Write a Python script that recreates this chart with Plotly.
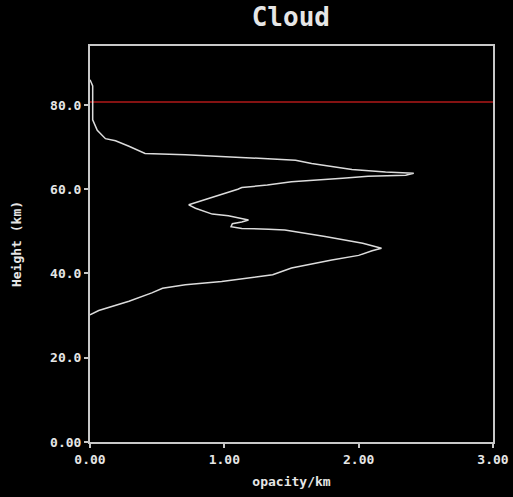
import plotly.graph_objects as go

# Cloud opacity profile, top to bottom
height_km = [86.0, 84.5, 76.5, 74.0, 72.0, 71.5, 70.2, 68.5, 68.2, 67.9, 67.3, 66.9,
             66.1, 64.7, 64.1, 63.8, 63.3, 63.1, 62.6, 61.8, 61.0, 60.4, 60.0, 56.3,
             55.5, 54.1, 53.7, 52.7, 52.2, 51.8, 51.1, 50.7, 50.5, 50.3, 48.8, 47.2,
             46.0, 45.4, 44.3, 43.2, 41.3, 39.7, 38.1, 37.3, 36.5, 35.4, 33.4, 32.2,
             31.2, 30.2]
opacity_per_km = [0.0, 0.02, 0.02, 0.054, 0.115, 0.19, 0.29, 0.41, 0.71, 0.91, 1.21, 1.53,
                  1.65, 1.95, 2.20, 2.41, 2.35, 2.07, 1.88, 1.50, 1.32, 1.13, 1.10, 0.735,
                  0.785, 0.91, 1.03, 1.18, 1.13, 1.06, 1.05, 1.13, 1.33, 1.45, 1.75, 2.03,
                  2.17, 2.10, 2.00, 1.80, 1.50, 1.36, 0.98, 0.71, 0.54, 0.46, 0.29, 0.165,
                  0.065, 0.0]

red_line_height = 80.7
red_line_x = [0.0, 3.0]

x_tick_vals = [0, 1, 2, 3]
x_tick_text = ["0.00", "1.00", "2.00", "3.00"]
y_tick_vals = [0, 20, 40, 60, 80]
y_tick_text = ["0.00", "20.0", "40.0", "60.0", "80.0"]

FONT = "DejaVu Sans Mono"
TXT = "#e6e6e6"
FRAME = "#c8c8c8"

fig = go.Figure()
fig.add_trace(go.Scatter(x=red_line_x, y=[red_line_height] * len(red_line_x),
                         mode="lines", line=dict(color="#b01818", width=1.5),
                         showlegend=False, hoverinfo="skip"))
fig.add_trace(go.Scatter(x=opacity_per_km, y=height_km, mode="lines",
                         line=dict(color="#dcdcdc", width=1.5),
                         showlegend=False))

fig.update_layout(
    width=513, height=497,
    paper_bgcolor="black", plot_bgcolor="black",
    margin=dict(l=90, r=20, t=46, b=55),
    title=dict(text="<b>Cloud</b>", x=0.567, xanchor="center",
               yref="container", y=1 - 17 / 497, yanchor="middle",
               font=dict(family=FONT, size=26, color=TXT)),
    font=dict(family=FONT, color=TXT, size=13, weight="bold"),
)
fig.update_xaxes(range=[0, 3], tickvals=x_tick_vals, ticktext=x_tick_text,
                 automargin=False,
                 showgrid=False, zeroline=False, showline=True, linecolor=FRAME,
                 linewidth=2, mirror=True, ticks="outside", ticklen=4, tickcolor=FRAME,
                 tickwidth=1.5,
                 tickfont=dict(family=FONT, size=13, color=TXT, weight="bold"),
                 title=dict(text="opacity/km", standoff=11,
                            font=dict(family=FONT, size=13, color=TXT, weight="bold")))
fig.update_yaxes(range=[0, 94], tickvals=y_tick_vals, ticktext=y_tick_text,
                 automargin=False,
                 showgrid=False, zeroline=False, showline=True, linecolor=FRAME,
                 linewidth=2, mirror=True, ticks="outside", ticklen=4, tickcolor=FRAME,
                 tickwidth=1.5,
                 tickfont=dict(family=FONT, size=13, color=TXT, weight="bold"),
                 title=dict(text="Height (km)", standoff=26,
                            font=dict(family=FONT, size=13, color=TXT, weight="bold")))

fig.write_html("out.html")
